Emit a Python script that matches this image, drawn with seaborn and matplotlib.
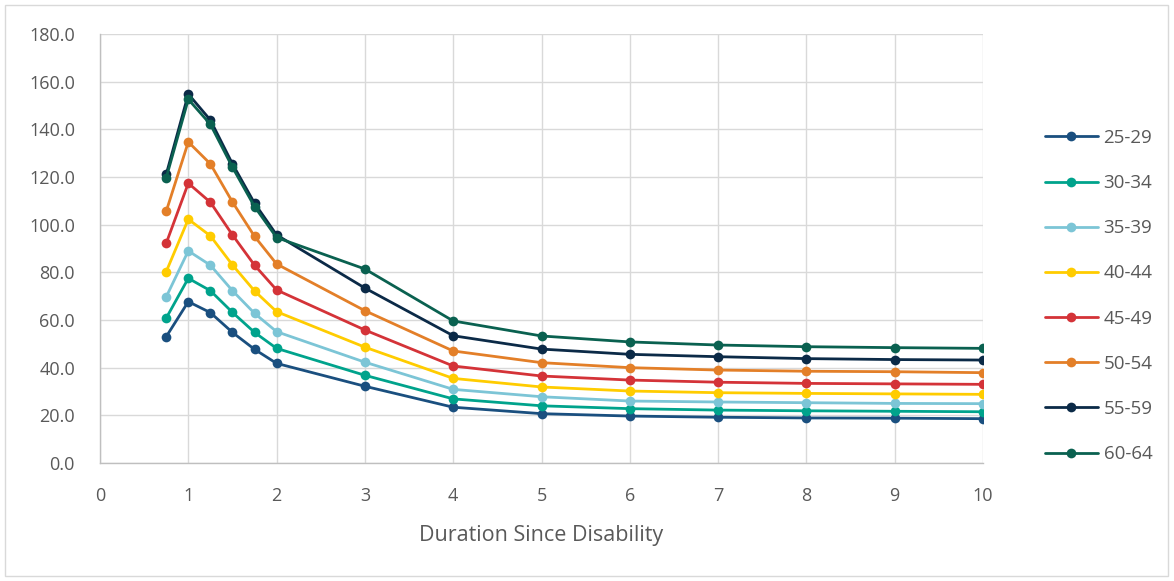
import matplotlib
matplotlib.use("Agg")
import matplotlib.pyplot as plt
import seaborn as sns
import pandas as pd
from matplotlib.patches import Rectangle
from matplotlib.lines import Line2D
from matplotlib.ticker import FormatStrFormatter

durations = [0.75, 1, 1.25, 1.5, 1.75, 2, 3, 4, 5, 6, 7, 8, 9, 10]
age_groups = ["25-29", "30-34", "35-39", "40-44", "45-49", "50-54", "55-59", "60-64"]

v_25_29 = [53.0, 67.7, 63.1, 54.8, 47.7, 41.8, 32.2, 23.4, 20.7, 19.7, 19.2, 18.9, 18.8, 18.6]
v_30_34 = [60.8, 77.5, 72.3, 63.2, 54.8, 48.1, 36.8, 26.9, 24.0, 22.8, 22.2, 21.9, 21.7, 21.5]
v_35_39 = [69.7, 89.0, 83.0, 72.3, 62.8, 55.1, 42.3, 30.9, 27.8, 26.0, 25.6, 25.3, 25.0, 24.9]
v_40_44 = [80.3, 102.3, 95.3, 83.1, 72.2, 63.5, 48.6, 35.5, 31.9, 30.2, 29.5, 29.2, 29.0, 28.8]
v_45_49 = [92.2, 117.4, 109.4, 95.7, 83.0, 72.6, 55.8, 40.7, 36.5, 34.8, 33.9, 33.4, 33.2, 33.0]
v_50_54 = [105.6, 134.7, 125.5, 109.5, 95.1, 83.5, 63.9, 47.0, 42.1, 40.0, 39.0, 38.5, 38.3, 37.9]
v_55_59 = [121.1, 154.8, 143.9, 125.5, 109.0, 95.7, 73.4, 53.4, 47.8, 45.6, 44.6, 43.8, 43.4, 43.2]
v_60_64 = [119.7, 152.6, 142.1, 124.1, 107.6, 94.6, 81.4, 59.6, 53.3, 50.8, 49.5, 48.8, 48.4, 48.1]

series = [v_25_29, v_30_34, v_35_39, v_40_44, v_45_49, v_50_54, v_55_59, v_60_64]
colors = ["#1a4f7f", "#00a38c", "#7cc5d6", "#ffcc00", "#d43338", "#e37f28", "#0b2a47", "#0a6150"]

y_ticks = [0, 20, 40, 60, 80, 100, 120, 140, 160, 180]
x_ticks = [0, 1, 2, 3, 4, 5, 6, 7, 8, 9, 10]

rows = []
for g, vals in zip(age_groups, series):
    for d, v in zip(durations, vals):
        rows.append({"Duration": d, "Value": v, "Age": g})
df = pd.DataFrame(rows)

sns.set_theme(style="white")
plt.rcParams["font.family"] = ["Open Sans", "DejaVu Sans"]

fig = plt.figure(figsize=(11.74, 5.81), dpi=100)
ax = fig.add_axes([100 / 1174, 1 - 463 / 581, 883 / 1174, 429 / 581])

palette = dict(zip(age_groups, colors))
sns.lineplot(data=df, x="Duration", y="Value", hue="Age", hue_order=age_groups,
             palette=palette, marker="o", markersize=7, markeredgewidth=0,
             linewidth=2.0, ax=ax, legend=False, zorder=3)

ax.set_xlim(0, 10)
ax.set_ylim(0, 180)
ax.set_xticks(x_ticks)
ax.set_yticks(y_ticks)
ax.yaxis.set_major_formatter(FormatStrFormatter("%.1f"))
ax.grid(True, color="#d9d9d9", linewidth=1.0, zorder=0)
ax.set_axisbelow(True)
for s in ["top", "right"]:
    ax.spines[s].set_visible(False)
for s in ["left", "bottom"]:
    ax.spines[s].set_color("#bfbfbf")
    ax.spines[s].set_linewidth(1.0)
ax.tick_params(axis="both", colors="#595959", labelsize=13, length=0)
ax.tick_params(axis="x", pad=17)
ax.tick_params(axis="y", pad=18)
ax.set_xlabel("Duration Since Disability", fontsize=15.5, color="#595959", labelpad=15)
ax.set_ylabel("")

handles = [Line2D([0], [0], color=c, linewidth=2.0, marker="o", markersize=7,
                  markeredgewidth=0) for c in colors]
fig.legend(handles, age_groups, loc="upper left", bbox_to_anchor=(1028 / 1174, 1 - 112 / 581),
           frameon=False, fontsize=13.5, labelcolor="#595959", labelspacing=1.45,
           handlelength=2.83, handletextpad=0.3)

fig.patches.append(Rectangle((5 / 1174, 5 / 581), 1163 / 1174, 571 / 581,
                             transform=fig.transFigure, fill=False,
                             edgecolor="#d9d9d9", linewidth=1.0))

fig.savefig("out.png", dpi=100, facecolor="white")
